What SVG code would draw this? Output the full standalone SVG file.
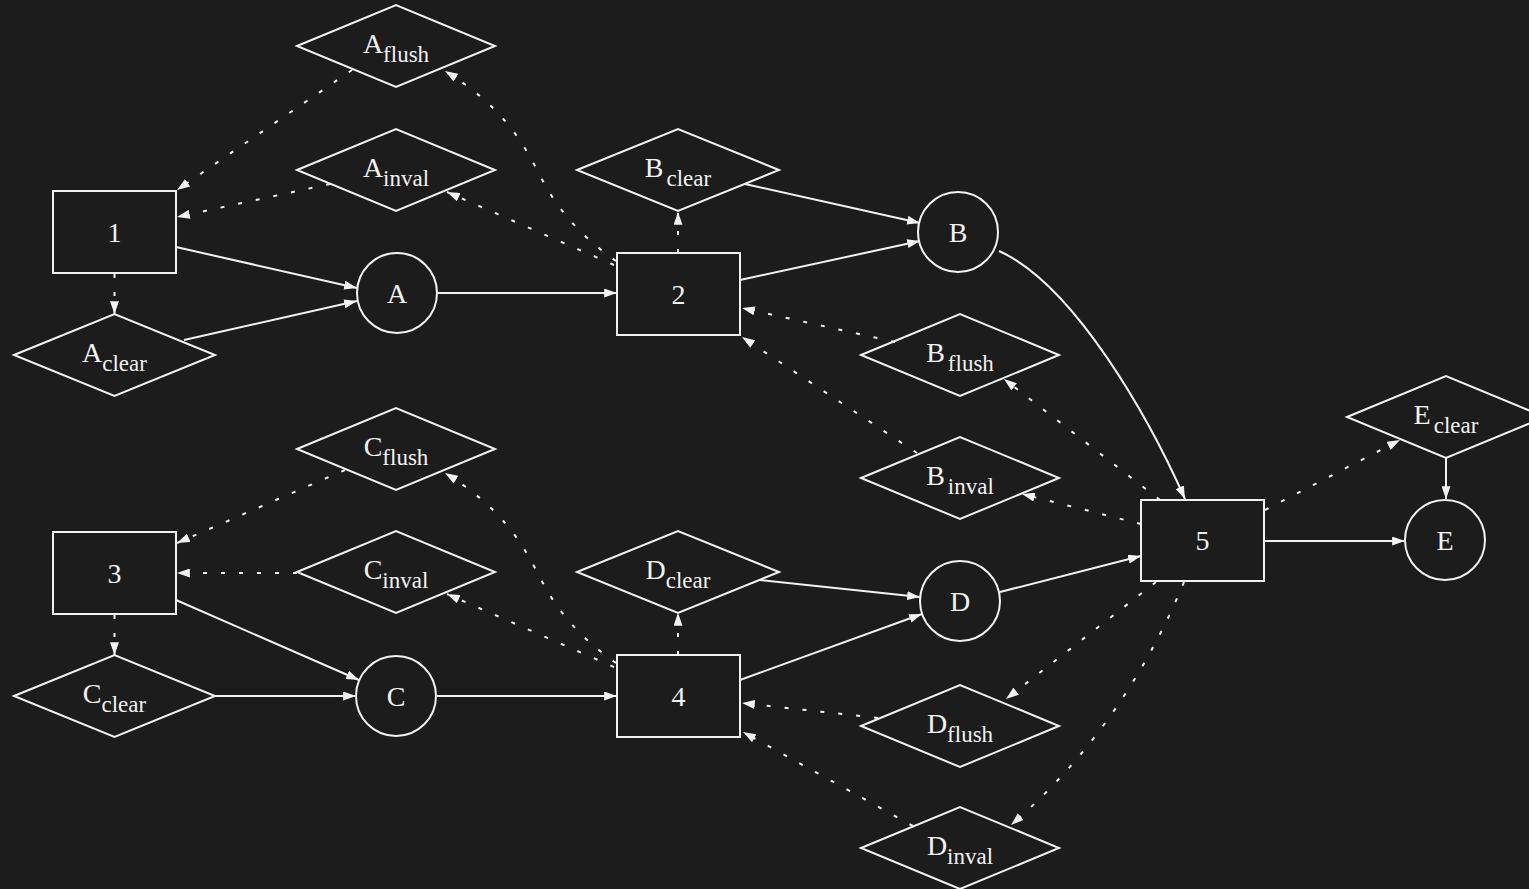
<svg xmlns="http://www.w3.org/2000/svg" width="1529" height="889" viewBox="0 0 1529 889">
<defs>
<style>
.bg{fill:#1c1c1c}
.shape{fill:none;stroke:#f2f2f2;stroke-width:2}
.e{fill:none;stroke:#f2f2f2;stroke-width:2;marker-end:url(#ah)}
.d{stroke-dasharray:4 14}
text{font-family:"Liberation Serif","Times New Roman",serif;font-size:28px;fill:#f2f2f2;text-anchor:middle}
.sub{font-size:23px}
</style>
<marker id="ah" viewBox="0 0 10 7" refX="10" refY="3.5" markerWidth="13" markerHeight="9" markerUnits="userSpaceOnUse" orient="auto">
<path d="M0,0 L10,3.5 L0,7 z" fill="#f2f2f2"/>
</marker>
</defs>
<rect class="bg" x="0" y="0" width="1529" height="889"/>

<g id="connectors">
<path class="e d" d="M352,70 L177,190"/>
<path class="e d" d="M330,184 L177,217"/>
<path class="e d" d="M114.5,274 L114.5,314"/>
<path class="e" d="M176,247 L357,288"/>
<path class="e" d="M184,340 L357,301"/>
<path class="e" d="M437,293 L617,293"/>
<path class="e d" d="M616,261 C575,232 555,205 538,172 C522,140 500,105 445,71"/>
<path class="e d" d="M614,265 L447,192"/>

<path class="e d" d="M345,470 L177,543"/>
<path class="e d" d="M297,573 L177,573"/>
<path class="e d" d="M114.5,615 L114.5,655"/>
<path class="e" d="M176,600 L359,680"/>
<path class="e" d="M214,696 L356,696"/>
<path class="e" d="M437,696 L617,696"/>
<path class="e d" d="M616,663 C575,634 555,607 538,574 C522,542 500,507 445,473"/>
<path class="e d" d="M614,667 L447,594"/>

<path class="e d" d="M678,253 L678,212"/>
<path class="e" d="M745,184 L920,223"/>
<path class="e" d="M740,280 L920,241"/>
<path class="e d" d="M895,342 L742,308"/>
<path class="e d" d="M917,453 L742,337"/>
<path class="e" d="M999,251 C1075,285 1150,420 1185,499"/>

<path class="e d" d="M678,655 L678,613"/>
<path class="e" d="M760,580 L920,597"/>
<path class="e" d="M740,680 L922,614"/>
<path class="e d" d="M878,718 L742,703"/>
<path class="e d" d="M913,826 L743,732"/>

<path class="e d" d="M1160,500 L1004,379"/>
<path class="e d" d="M1141,524 L1022,494"/>
<path class="e d" d="M1265,510 L1400,440"/>
<path class="e" d="M1446,458 L1446,499"/>
<path class="e" d="M1264,541 L1405,541"/>
<path class="e" d="M1000,592 L1141,556"/>
<path class="e d" d="M1156,582 L1006,699"/>
<path class="e d" d="M1184,582 C1160,640 1110,740 1011,825"/>
</g>

<g id="Aflush"><polygon class="shape" points="297,46 396,5 495,46 396,87"/><text x="396" y="53">A<tspan class="sub" dy="9">flush</tspan></text></g>
<g id="Ainval"><polygon class="shape" points="297,170 396,129 495,170 396,211"/><text x="396" y="177">A<tspan class="sub" dy="9">inval</tspan></text></g>
<g id="n1"><rect class="shape" x="53" y="191" width="123" height="82"/><text x="114.5" y="242">1</text></g>
<g id="Aclear"><polygon class="shape" points="14,355 114.5,314 215,355 114.5,396"/><text x="114.5" y="362">A<tspan class="sub" dy="9">clear</tspan></text></g>
<g id="A"><circle class="shape" cx="397" cy="293" r="40"/><text x="397" y="303">A</text></g>
<g id="n2"><rect class="shape" x="617" y="253" width="123" height="82"/><text x="678.5" y="304">2</text></g>
<g id="Bclear"><polygon class="shape" points="577,170 678,129 779,170 678,211"/><text x="678" y="177">B<tspan class="sub" dx="3" dy="9">clear</tspan></text></g>
<g id="B"><circle class="shape" cx="958" cy="232" r="40"/><text x="958" y="242">B</text></g>
<g id="Bflush"><polygon class="shape" points="861,355 960,314 1059,355 960,396"/><text x="960" y="362">B<tspan class="sub" dx="3" dy="9">flush</tspan></text></g>
<g id="Binval"><polygon class="shape" points="861,478 960,437 1059,478 960,519"/><text x="960" y="485">B<tspan class="sub" dx="3" dy="9">inval</tspan></text></g>
<g id="n5"><rect class="shape" x="1141" y="500" width="123" height="81"/><text x="1202.5" y="550">5</text></g>
<g id="Eclear"><polygon class="shape" points="1347,417 1446,376 1545,417 1446,458"/><text x="1446" y="424">E<tspan class="sub" dx="3" dy="9">clear</tspan></text></g>
<g id="E"><circle class="shape" cx="1445" cy="540" r="40"/><text x="1445" y="550">E</text></g>

<g id="Cflush"><polygon class="shape" points="297,449 396,408 495,449 396,490"/><text x="396" y="456">C<tspan class="sub" dy="9">flush</tspan></text></g>
<g id="Cinval"><polygon class="shape" points="297,572 396,531 495,572 396,613"/><text x="396" y="579">C<tspan class="sub" dy="9">inval</tspan></text></g>
<g id="n3"><rect class="shape" x="53" y="532" width="123" height="82"/><text x="114.5" y="583">3</text></g>
<g id="Cclear"><polygon class="shape" points="14,696 114.5,655 215,696 114.5,737"/><text x="114.5" y="703">C<tspan class="sub" dy="9">clear</tspan></text></g>
<g id="C"><circle class="shape" cx="396" cy="696" r="40"/><text x="396" y="706">C</text></g>
<g id="n4"><rect class="shape" x="617" y="655" width="123" height="82"/><text x="678.5" y="706">4</text></g>
<g id="Dclear"><polygon class="shape" points="577,572 678,531 779,572 678,613"/><text x="678" y="579">D<tspan class="sub" dy="9">clear</tspan></text></g>
<g id="D"><circle class="shape" cx="960" cy="601" r="40"/><text x="960" y="611">D</text></g>
<g id="Dflush"><polygon class="shape" points="861,726 960,685 1059,726 960,767"/><text x="960" y="733">D<tspan class="sub" dy="9">flush</tspan></text></g>
<g id="Dinval"><polygon class="shape" points="861,848 960,807 1059,848 960,889"/><text x="960" y="855">D<tspan class="sub" dy="9">inval</tspan></text></g>
</svg>
